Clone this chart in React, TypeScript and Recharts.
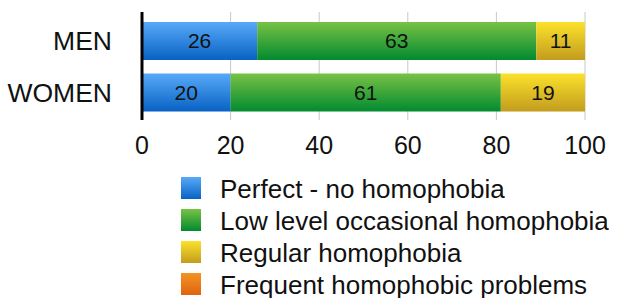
import React from "react"
import { BarChart, Bar, XAxis, YAxis, CartesianGrid, Legend, LabelList } from "recharts"

const groups = ["MEN", "WOMEN"]
const perfect = [26, 20]
const lowLevel = [63, 61]
const regular = [11, 19]
const frequent = [0, 0]
const xTicks = [0, 20, 40, 60, 80, 100]

const seriesNames = [
  "Perfect - no homophobia",
  "Low level occasional homophobia",
  "Regular homophobia",
  "Frequent homophobic problems",
]
const seriesKeys = ["perfect", "lowLevel", "regular", "frequent"]
// top / bottom colour of each gradient
const gradients = [
  ["#58aaf8", "#0862c4"],
  ["#78c244", "#028a30"],
  ["#fbe22b", "#c29c1e"],
  ["#f39424", "#df640f"],
]

const data = groups.map((g, i) => ({
  group: g,
  perfect: perfect[i],
  lowLevel: lowLevel[i],
  regular: regular[i],
  frequent: frequent[i],
}))

const FONT = "'Liberation Sans', Arial, Helvetica, sans-serif"

const hideZero = (v: any) => (v ? v : "")

function LegendBlock() {
  return (
    <div style={{ fontFamily: FONT, fontSize: 26, color: "#111" }}>
      {seriesNames.map((name, i) => (
        <div key={name} style={{ display: "flex", alignItems: "flex-start", height: 32, lineHeight: "32px" }}>
          <div
            style={{
              width: 20,
              height: 22,
              marginTop: 4,
              marginRight: 19,
              background: `linear-gradient(${gradients[i][0]}, ${gradients[i][1]})`,
            }}
          />
          <span style={{ whiteSpace: "nowrap" }}>{name}</span>
        </div>
      ))}
    </div>
  )
}

export default function App() {
  return (
    <div style={{ position: "absolute", left: 0, top: 0, width: 619, height: 298, background: "#fff" }}>
      <BarChart
        width={619}
        height={298}
        data={data}
        layout="vertical"
        margin={{ top: 12, right: 34, left: 0, bottom: 10 }}
      >
        <defs>
          {gradients.map((g, i) => (
            <linearGradient key={i} id={`grad${i}`} x1="0" y1="0" x2="0" y2="1">
              <stop offset="0%" stopColor={g[0]} />
              <stop offset="100%" stopColor={g[1]} />
            </linearGradient>
          ))}
        </defs>
        <CartesianGrid horizontal={false} stroke="#c8c8c8" />
        <XAxis
          type="number"
          domain={[0, 100]}
          ticks={xTicks}
          axisLine={false}
          tickLine={false}
          tickSize={0}
          tickMargin={16}
          height={40}
          interval={0}
          tick={{ fontFamily: FONT, fontSize: 25, fill: "#111" }}
        />
        {seriesKeys.map((k, i) => (
          <Bar key={k} dataKey={k} name={seriesNames[i]} stackId="a" fill={`url(#grad${i})`} barSize={38} isAnimationActive={false}>
            <LabelList
              dataKey={k}
              position="center"
              formatter={hideZero}
              style={{ fontFamily: FONT, fontSize: 21, fill: "#111" }}
            />
          </Bar>
        ))}
        <YAxis
          type="category"
          dataKey="group"
          width={142}
          axisLine={{ stroke: "#000", strokeWidth: 3 }}
          tickLine={false}
          tickSize={0}
          tickMargin={30}
          padding={{ top: 3, bottom: 2 }}
          tick={{ fontFamily: FONT, fontSize: 26.5, fill: "#111" }}
        />
        <Legend
          layout="vertical"
          align="center"
          verticalAlign="bottom"
          content={() => <LegendBlock />}
          wrapperStyle={{ left: 181, top: 173, bottom: "auto", width: 438, height: 128 }}
        />
      </BarChart>
    </div>
  )
}
